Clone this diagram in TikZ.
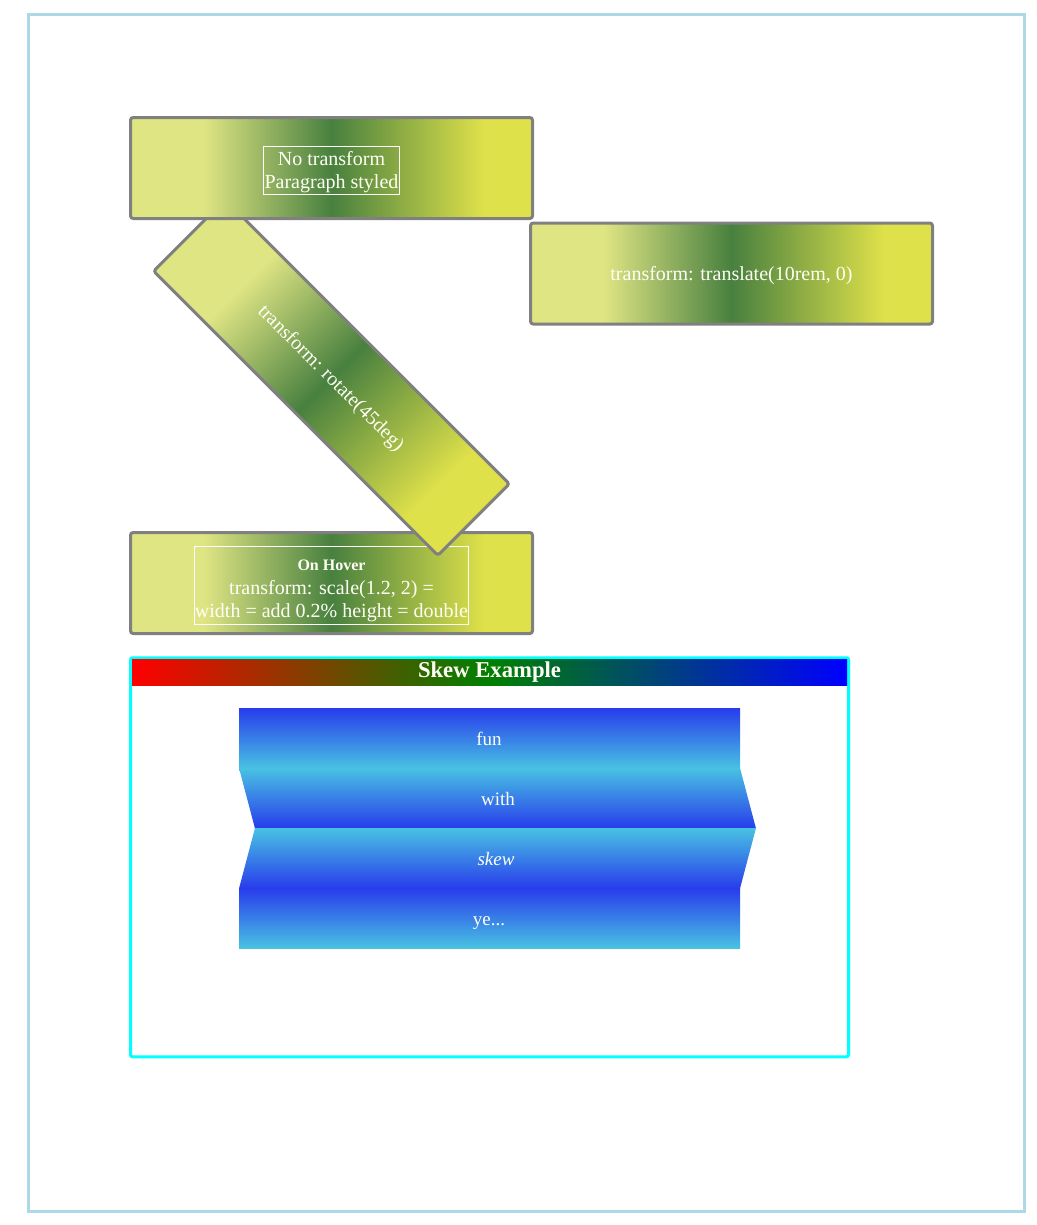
\documentclass[tikz,border=0pt]{standalone}
\usepackage{fontspec}
\setmainfont{Liberation Serif}
\definecolor{gA}{RGB}{224,229,132}
\definecolor{gB}{RGB}{72,128,63}
\definecolor{gC}{RGB}{223,225,74}
\definecolor{boxgray}{RGB}{128,128,128}
\definecolor{frameblue}{RGB}{173,216,230}
\definecolor{sblue}{RGB}{40,60,236}
\definecolor{scyan}{RGB}{72,194,226}
\definecolor{hred}{RGB}{255,0,0}
\definecolor{hgreen}{RGB}{0,128,0}
\definecolor{hblue}{RGB}{0,0,255}
\definecolor{pcyan}{RGB}{0,255,255}
\definecolor{txtwhite}{RGB}{255,255,245}
\pgfdeclarehorizontalshading{greenbar}{100bp}{color(0bp)=(gA); color(34bp)=(gA); color(50bp)=(gB); color(69bp)=(gC); color(100bp)=(gC)}
\begin{document}
\begin{tikzpicture}[x=0.75pt,y=-0.75pt,
  greenbox/.style={rectangle, shade, shading=greenbar, draw=boxgray, line width=2.25pt,
    rounded corners=2pt, minimum width=301.5pt, minimum height=75.75pt, inner sep=0pt},
  txt/.style={text=txtwhite, font=\fontsize{15}{17.25}\selectfont, align=center, inner sep=0pt},
  txtrect/.style={rectangle, draw=white, line width=0.75pt, inner sep=0pt},
  skewtxt/.style={text=txtwhite, font=\fontsize{14.25}{17}\selectfont, inner sep=0pt, anchor=base}]
\useasboundingbox (0,0) rectangle (1036,1225);
% outer frame
\draw[frameblue, line width=2.25pt] (28.5,14.5) rectangle (1024.5,1211.5);
% box 4 (scale)
\node[greenbox] (b4) at (331.5,583) {};
\node[txtrect, minimum width=205.5pt, minimum height=58.5pt] (b4r) at (331.5,585.5) {};
\node[txt] (b4t) at (331.5,591)
  {{\fontsize{12}{14}\selectfont\bfseries On Hover}\\[0.5pt] transform: scale(1.2, 2) =\\ width = add 0.2\% height = double};
% rotated box
\begin{scope}[transform canvas={rotate around={-45:(331.5,377.5)}}]
\node[greenbox] (b3) at (331.5,377.5) {};
\node[txt] (b3t) at (331.5,379) {transform: rotate(45deg)};
\end{scope}
% box 1
\node[greenbox] (b1) at (331.5,168) {};
\node[txtrect, minimum width=102pt, minimum height=36pt] (b1r) at (331.5,170.5) {};
\node[txt] (b1t) at (331.5,172) {No transform\\Paragraph styled};
% box 2 (translate)
\node[greenbox] (b2) at (731.5,273.5) {};
\node[txt] (b2t) at (731.5,276) {transform: translate(10rem, 0)};
% skew example frame
\node[rectangle, draw=pcyan, line width=2.25pt, rounded corners=1.5pt,
  minimum width=538.5pt, minimum height=299.25pt, inner sep=0pt] (skf) at (489.5,857.25) {};
\shade[left color=hred, right color=hblue, middle color=hgreen] (132,659) rectangle (847,685);
\node[text=txtwhite, font=\fontsize{17}{20}\selectfont\bfseries, inner sep=0pt] (skh) at (489.5,672.5) {Skew Example};
% bands
\shade[top color=sblue, bottom color=scyan] (239,708) rectangle (740,768.5);
\shade[top color=scyan, bottom color=sblue] (239,768) -- (740,768) -- (756,828.5) -- (255,828.5) -- cycle;
\shade[top color=scyan, bottom color=sblue] (255,828) -- (756,828) -- (740,888.5) -- (239,888.5) -- cycle;
\shade[top color=sblue, bottom color=scyan] (239,888) rectangle (740,948);
\node[skewtxt] (s1) at (489,745.5) {fun};
\node[skewtxt] (s2) at (498,805.5) {with};
\node[skewtxt] (s3) at (496,865.5) {\itshape skew};
\node[skewtxt] (s4) at (489,925.5) {ye...};
\end{tikzpicture}
\end{document}
